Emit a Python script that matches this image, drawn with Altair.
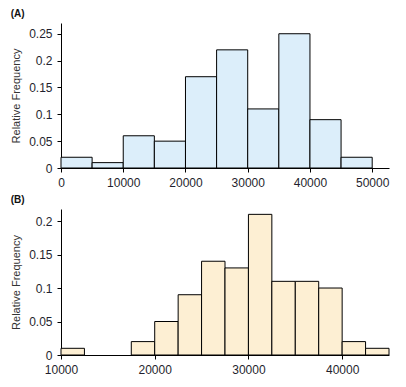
import altair as alt
import pandas as pd

# Panel A
a_start = [0, 5000, 10000, 15000, 20000, 25000, 30000, 35000, 40000, 45000]
a_end = [5000, 10000, 15000, 20000, 25000, 30000, 35000, 40000, 45000, 50000]
a_freq = [0.02, 0.01, 0.06, 0.05, 0.17, 0.22, 0.11, 0.25, 0.09, 0.02]

# Panel B
b_start = [10000, 12500, 15000, 17500, 20000, 22500, 25000, 27500, 30000, 32500, 35000, 37500, 40000, 42500]
b_end = [12500, 15000, 17500, 20000, 22500, 25000, 27500, 30000, 32500, 35000, 37500, 40000, 42500, 45000]
b_freq = [0.01, 0.0, 0.0, 0.02, 0.05, 0.09, 0.14, 0.13, 0.21, 0.11, 0.11, 0.10, 0.02, 0.01]

a_xticks = [0, 10000, 20000, 30000, 40000, 50000]
a_yticks = [0, 0.05, 0.1, 0.15, 0.2, 0.25]
b_xticks = [10000, 20000, 30000, 40000]
b_yticks = [0, 0.05, 0.1, 0.15, 0.2]

df_a = pd.DataFrame({"start": a_start, "end": a_end, "freq": a_freq})
df_b = pd.DataFrame({"start": b_start, "end": b_end, "freq": b_freq})
df_b = df_b[df_b["freq"] > 0]

FONT = "Liberation Sans"
TXT = "#1f1f2e"


def axis_x(values):
    return alt.Axis(values=values, format="d", title=None, grid=False, tickSize=4,
                    labelPadding=5, labelFontSize=12, labelColor=TXT, labelFont=FONT,
                    domainColor="#000", tickColor="#000", labelFlush=False)


def axis_y(values):
    return alt.Axis(values=values, format="~g", title="Relative Frequency", grid=False,
                    tickSize=4, labelPadding=5, labelFontSize=12, labelColor=TXT,
                    labelFont=FONT, titleFont=FONT, titleFontSize=11,
                    titleFontWeight="normal", titleColor="#333", titlePadding=7,
                    domainColor="#000", tickColor="#000")


def panel(df, color, xdom, ydom, xt, yt, label, height):
    return alt.Chart(df).mark_rect(fill=color, stroke="#000", strokeWidth=1).encode(
        x=alt.X("start:Q", scale=alt.Scale(domain=xdom, nice=False, zero=False), axis=axis_x(xt)),
        x2="end:Q",
        y=alt.Y("freq:Q", scale=alt.Scale(domain=ydom, nice=False), axis=axis_y(yt)),
        y2=alt.datum(0),
    ).properties(
        width=328, height=height,
        title=alt.TitleParams(label, anchor="start", fontSize=10, fontWeight="bold",
                              font=FONT, color="#111", offset=4),
    )


pa = panel(df_a, "#dcEEFA", [0, 52700], [0, 0.27], a_xticks, a_yticks, "(A)", 145)
pb = panel(df_b, "#FDEFD3", [10000, 45000], [0, 0.218], b_xticks, b_yticks, "(B)", 146)

chart = alt.vconcat(pa, pb, spacing=7).properties(
    padding={"left": 2, "top": 1, "right": 0, "bottom": 0}
).configure_view(stroke=None)

chart.save("out.html", embed_options={"renderer": "svg", "actions": False})
